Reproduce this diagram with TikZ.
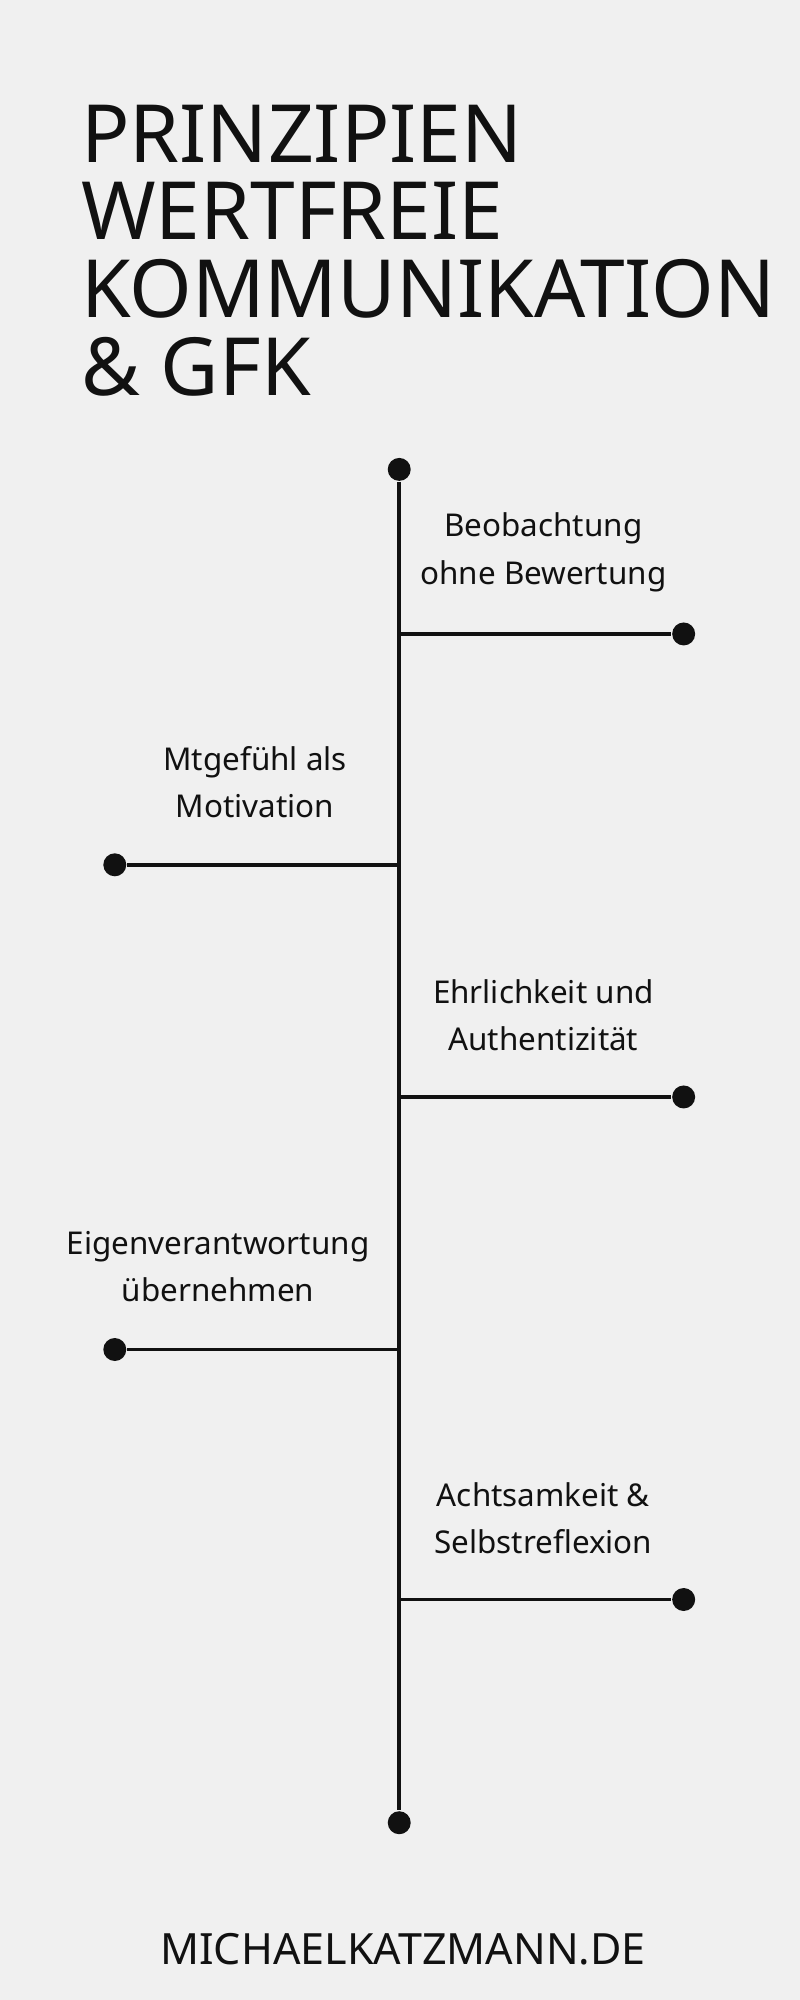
\documentclass[tikz,border=0pt]{standalone}
\usepackage{fontspec}
\setmainfont{Noto Sans}
\definecolor{bg}{HTML}{F0F0F0}
\definecolor{ink}{HTML}{111111}
\begin{document}
\begin{tikzpicture}[
   x=0.01cm, y=-0.01cm,
   dot/.style={circle, fill=ink, inner sep=0pt, minimum size=0.18cm},
   branch/.style={-, line width=0.85pt, draw=ink},
   lbl/.style={align=center, font=\fontsize{7}{10.5}\selectfont, text=ink},
   ttl/.style={anchor=base west, font=\fontsize{17.9}{17.4}\selectfont, text=ink, inner sep=0pt}
]
\fill[bg] (0,0) rectangle (627,1568);
\useasboundingbox (0,0) rectangle (627,1568);
% title
\node[ttl] (t1) at (63,127) {PRINZIPIEN};
\node[ttl] (t2) at (63,188) {WERTFREIE};
\node[ttl] (t3) at (63,249) {KOMMUNIKATION};
\node[ttl] (t4) at (63,310) {\& GFK};
% timeline
\node[dot] (top) at (313,368) {};
\node[dot] (bot) at (313,1429) {};
\draw[branch] (top) -- (bot);
% branches
\coordinate (j1) at (313,497);
\coordinate (j2) at (313,678);
\coordinate (j3) at (313,860);
\coordinate (j4) at (313,1058);
\coordinate (j5) at (313,1254);
\node[dot] (e1) at (536,497) {};
\node[dot] (e2) at (90,678) {};
\node[dot] (e3) at (536,860) {};
\node[dot] (e4) at (90,1058) {};
\node[dot] (e5) at (536,1254) {};
\draw[branch] (j1) -- (e1);
\draw[branch] (j2) -- (e2);
\draw[branch] (j3) -- (e3);
\draw[branch] (j4) -- (e4);
\draw[branch] (j5) -- (e5);
% labels
\node[lbl] (l1) at (426,433) {Beobachtung\\ohne Bewertung};
\node[lbl] (l2) at (200,613) {Mtgefühl als\\Motivation};
\node[lbl] (l3) at (426,796) {Ehrlichkeit und\\Authentizität};
\node[lbl] (l4) at (171,993) {Eigenverantwortung\\übernehmen};
\node[lbl] (l5) at (426,1190) {Achtsamkeit \&\\Selbstreflexion};
% footer
\node[font=\fontsize{9.6}{11}\selectfont, text=ink] (foot) at (316,1528) {MICHAELKATZMANN.DE};
\end{tikzpicture}
\end{document}
